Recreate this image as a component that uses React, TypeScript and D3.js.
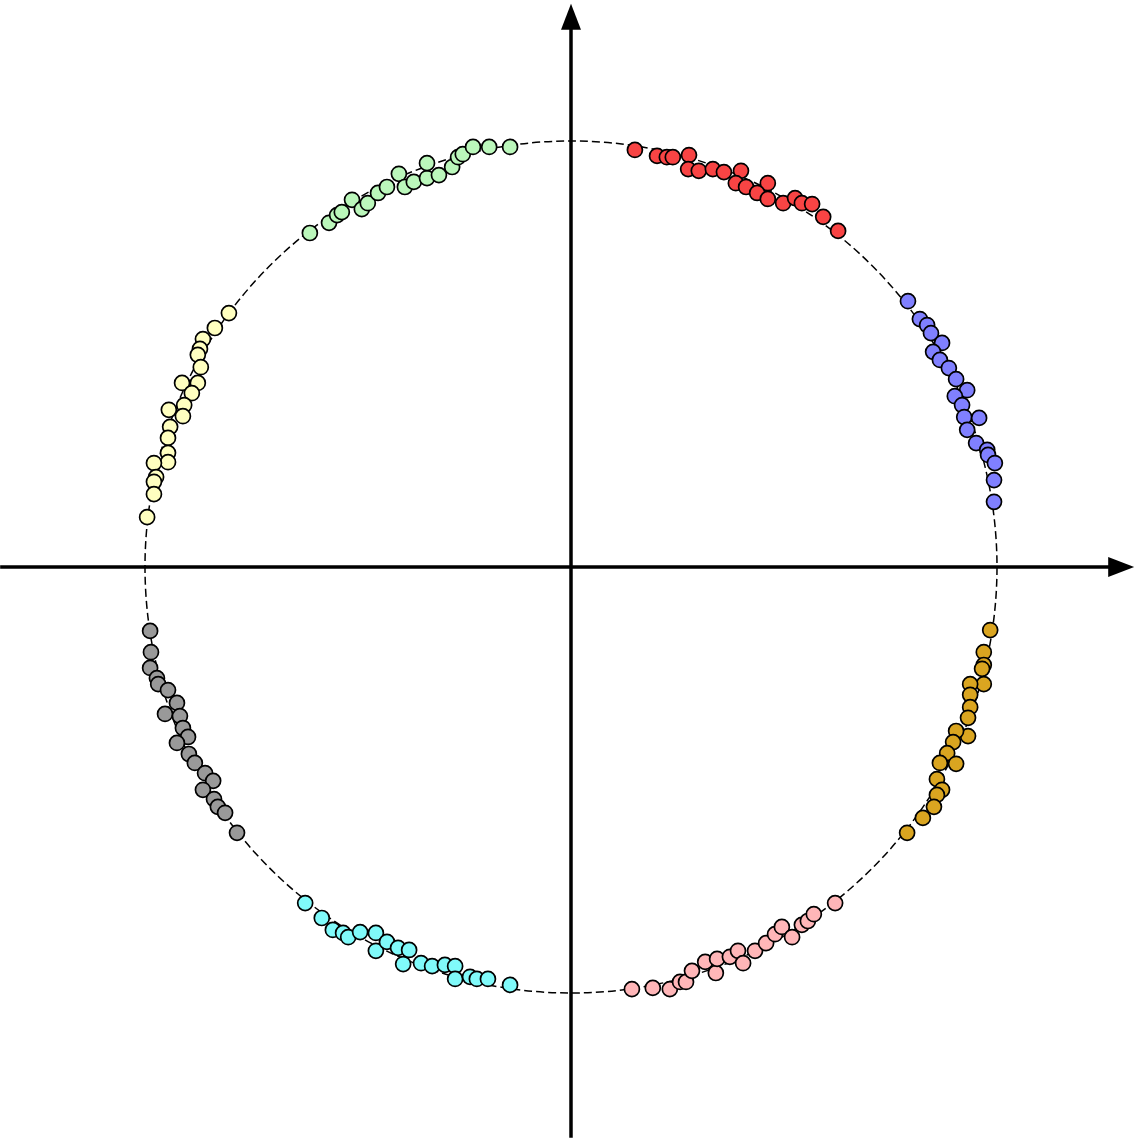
import React, { useEffect, useRef } from "react";
import * as d3 from "d3";

// points, unit circle coordinates [x, y]
const redPoints: [number, number][] = [
    [0.150, 0.979], [0.202, 0.965], [0.225, 0.962], [0.239, 0.962], [0.277, 0.967],
    [0.275, 0.934], [0.300, 0.930], [0.333, 0.934], [0.359, 0.927], [0.399, 0.930],
    [0.387, 0.901], [0.411, 0.892], [0.462, 0.901], [0.437, 0.878], [0.462, 0.864],
    [0.498, 0.854], [0.526, 0.866], [0.542, 0.854], [0.566, 0.852], [0.592, 0.822],
    [0.627, 0.789]
];
const bluePoints: [number, number][] = [
    [0.791, 0.624], [0.819, 0.582], [0.836, 0.568], [0.845, 0.549], [0.871, 0.526],
    [0.850, 0.505], [0.866, 0.486], [0.887, 0.467], [0.904, 0.441], [0.930, 0.415],
    [0.901, 0.401], [0.918, 0.380], [0.923, 0.352], [0.958, 0.350], [0.930, 0.322],
    [0.951, 0.291], [0.977, 0.275], [0.979, 0.263], [0.995, 0.244], [0.993, 0.204],
    [0.993, 0.153]
];
const goldPoints: [number, number][] = [
    [0.984, -0.148], [0.969, -0.200], [0.969, -0.230], [0.965, -0.239], [0.969, -0.275],
    [0.937, -0.275], [0.937, -0.300], [0.937, -0.329], [0.932, -0.354], [0.932, -0.397],
    [0.904, -0.385], [0.897, -0.411], [0.883, -0.437], [0.904, -0.462], [0.866, -0.460],
    [0.859, -0.498], [0.871, -0.523], [0.859, -0.535], [0.852, -0.563], [0.826, -0.589],
    [0.789, -0.624]
];
const pinkPoints: [number, number][] = [
    [0.143, -0.991], [0.192, -0.988], [0.232, -0.991], [0.256, -0.974], [0.270, -0.974],
    [0.284, -0.948], [0.315, -0.927], [0.340, -0.953], [0.343, -0.920], [0.373, -0.915],
    [0.392, -0.901], [0.404, -0.930], [0.432, -0.901], [0.458, -0.883], [0.479, -0.862],
    [0.495, -0.845], [0.519, -0.869], [0.542, -0.840], [0.556, -0.831], [0.570, -0.815],
    [0.620, -0.789]
];
const cyanPoints: [number, number][] = [
    [-0.624, -0.789], [-0.585, -0.824], [-0.559, -0.852], [-0.535, -0.859], [-0.523, -0.869],
    [-0.495, -0.857], [-0.458, -0.859], [-0.458, -0.901], [-0.432, -0.880], [-0.406, -0.894],
    [-0.380, -0.899], [-0.394, -0.932], [-0.352, -0.930], [-0.326, -0.937], [-0.296, -0.934],
    [-0.272, -0.937], [-0.272, -0.967], [-0.237, -0.962], [-0.221, -0.967], [-0.195, -0.967],
    [-0.143, -0.981]
];
const grayPoints: [number, number][] = [
    [-0.988, -0.150], [-0.986, -0.200], [-0.988, -0.237], [-0.972, -0.261], [-0.969, -0.275],
    [-0.946, -0.289], [-0.925, -0.319], [-0.953, -0.345], [-0.918, -0.350], [-0.911, -0.378],
    [-0.899, -0.399], [-0.925, -0.413], [-0.897, -0.439], [-0.883, -0.460], [-0.859, -0.484],
    [-0.840, -0.502], [-0.864, -0.523], [-0.838, -0.545], [-0.829, -0.563], [-0.812, -0.577],
    [-0.784, -0.624]
];
const yellowPoints: [number, number][] = [
    [-0.803, 0.596], [-0.836, 0.561], [-0.864, 0.535], [-0.871, 0.512], [-0.876, 0.498],
    [-0.869, 0.469], [-0.913, 0.432], [-0.876, 0.432], [-0.890, 0.408], [-0.908, 0.380],
    [-0.944, 0.369], [-0.911, 0.354], [-0.941, 0.329], [-0.946, 0.303], [-0.946, 0.268],
    [-0.946, 0.246], [-0.979, 0.244], [-0.974, 0.211], [-0.979, 0.200], [-0.979, 0.171],
    [-0.995, 0.117]
];
const greenPoints: [number, number][] = [
    [-0.613, 0.784], [-0.568, 0.808], [-0.549, 0.826], [-0.538, 0.833], [-0.514, 0.862],
    [-0.491, 0.840], [-0.477, 0.854], [-0.453, 0.878], [-0.432, 0.892], [-0.404, 0.923],
    [-0.390, 0.892], [-0.369, 0.904], [-0.338, 0.913], [-0.338, 0.948], [-0.310, 0.920],
    [-0.279, 0.939], [-0.265, 0.962], [-0.254, 0.969], [-0.230, 0.986], [-0.192, 0.986],
    [-0.143, 0.986]
];

const groupNames = ["red", "blue", "gold", "pink", "cyan", "gray", "yellow", "green"];
const groupColors = ["#f84444", "#8080ff", "#daa520", "#ffb6b8", "#80fafa", "#999999", "#ffffc0", "#bbf7bb"];
const groupPoints = [redPoints, bluePoints, goldPoints, pinkPoints, cyanPoints, grayPoints, yellowPoints, greenPoints];

// axis extent in data units (circle radius = 1)
const axisExtent = [-1.34, 1.322];

const App = () => {
    const chartRef = useRef<SVGSVGElement>(null);

    useEffect(() => {
        const width = 1138;
        const height = 1140;

        const x = d3.scaleLinear().domain([-1, 1]).range([145, 997]);
        const y = d3.scaleLinear().domain([-1, 1]).range([993, 141]);

        const svg = d3.select(chartRef.current);
        svg.selectAll("*").remove();
        svg.attr("width", width).attr("height", height);

        // dashed unit circle
        svg.append("circle")
            .attr("cx", x(0))
            .attr("cy", y(0))
            .attr("r", x(1) - x(0))
            .attr("fill", "none")
            .attr("stroke", "#000")
            .attr("stroke-width", 1.5)
            .attr("stroke-dasharray", "8,4");

        const arrow = 26;
        const half = 10;

        // x axis
        svg.append("line")
            .attr("x1", x(axisExtent[0]))
            .attr("x2", x(axisExtent[1]) - arrow + 2)
            .attr("y1", y(0))
            .attr("y2", y(0))
            .attr("stroke", "#000")
            .attr("stroke-width", 3.5);
        svg.append("path")
            .attr("d", `M${x(axisExtent[1])},${y(0)} L${x(axisExtent[1]) - arrow},${y(0) - half} L${x(axisExtent[1]) - arrow},${y(0) + half} Z`)
            .attr("fill", "#000");

        // y axis
        svg.append("line")
            .attr("x1", x(0))
            .attr("x2", x(0))
            .attr("y1", y(axisExtent[0]))
            .attr("y2", y(axisExtent[1]) + arrow - 2)
            .attr("stroke", "#000")
            .attr("stroke-width", 3.5);
        svg.append("path")
            .attr("d", `M${x(0)},${y(axisExtent[1])} L${x(0) - half},${y(axisExtent[1]) + arrow} L${x(0) + half},${y(axisExtent[1]) + arrow} Z`)
            .attr("fill", "#000");

        groupPoints.forEach((pts, i) => {
            svg.append("g")
                .attr("class", "group-" + groupNames[i])
                .selectAll("circle")
                .data(pts)
                .enter()
                .append("circle")
                .attr("cx", d => x(d[0]))
                .attr("cy", d => y(d[1]))
                .attr("r", 7.5)
                .attr("fill", groupColors[i])
                .attr("stroke", "#000")
                .attr("stroke-width", 1.7);
        });
    }, []);

    return (
        <div>
            <svg ref={chartRef} style={{ position: "absolute", left: 0, top: 0 }} />
        </div>
    );
};

export default App;
